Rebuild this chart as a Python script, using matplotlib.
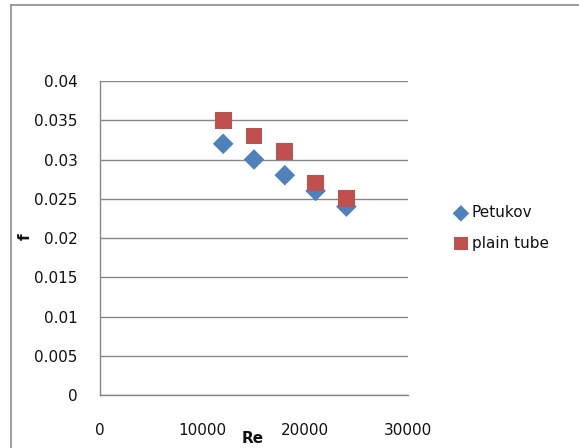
import matplotlib

matplotlib.use("Agg")
import numpy as np
from matplotlib import pyplot as plt
from matplotlib.lines import Line2D

re_values = [12000, 15000, 18000, 21000, 24000]
f_petukov = [0.032, 0.030, 0.028, 0.026, 0.024]
f_plain = [0.035, 0.033, 0.031, 0.027, 0.025]

x_ticks = [0, 10000, 20000, 30000]
y_ticks = [0, 0.005, 0.01, 0.015, 0.02, 0.025, 0.03, 0.035, 0.04]
y_labels = ["0", "0.005", "0.01", "0.015", "0.02", "0.025", "0.03", "0.035", "0.04"]

W, H = 579, 448
fig = plt.figure(figsize=(W / 100, H / 100), dpi=100)
fig.patch.set_facecolor("white")

ax = fig.add_axes([100 / W, 1 - 395 / H, 308 / W, 314 / H])
ax.scatter(re_values, f_petukov, marker="D", s=10.5 ** 2, color="#4F81BD",
           edgecolors="none", label="Petukov", zorder=3)
ax.scatter(re_values, f_plain, marker="s", s=12 ** 2, color="#C0504D",
           edgecolors="none", label="plain tube", zorder=4)

ax.set_xlim(0, 30000)
ax.set_ylim(0, 0.04)
ax.set_xticks(x_ticks)
ax.set_xticklabels([str(v) for v in x_ticks])
ax.set_yticks(y_ticks)
ax.set_yticklabels(y_labels)
ax.tick_params(length=0, labelsize=11, colors="#111111")
ax.tick_params(axis="y", pad=16)
ax.tick_params(axis="x", pad=20)
ax.grid(axis="y", color="#868686", linewidth=1)
ax.set_axisbelow(True)
for side in ["top", "right"]:
    ax.spines[side].set_visible(False)
for side in ["left", "bottom"]:
    ax.spines[side].set_color("#868686")
    ax.spines[side].set_linewidth(1)

fig.text(253 / W, 1 - 438 / H, "Re", ha="center", va="center", fontsize=11,
         fontweight="bold", color="#111111")
fig.text(25 / W, 1 - 237 / H, "f", ha="center", va="center", fontsize=11,
         fontweight="bold", rotation=90, color="#111111")

fig.legend(loc="center left", bbox_to_anchor=(438 / W, 1 - 228 / H), frameon=False,
           fontsize=11, handletextpad=0.1, labelspacing=1.0, markerscale=0.8,
           handlelength=1.2, labelcolor="#111111")

# chart area border (top and left edges)
fig.add_artist(Line2D([11 / W, 1], [1 - 5 / H, 1 - 5 / H], color="#8c8c8c", linewidth=1.2))
fig.add_artist(Line2D([11 / W, 11 / W], [0, 1 - 5 / H], color="#8c8c8c", linewidth=1.2))

plt.savefig("out.png", dpi=100)
plt.close()
